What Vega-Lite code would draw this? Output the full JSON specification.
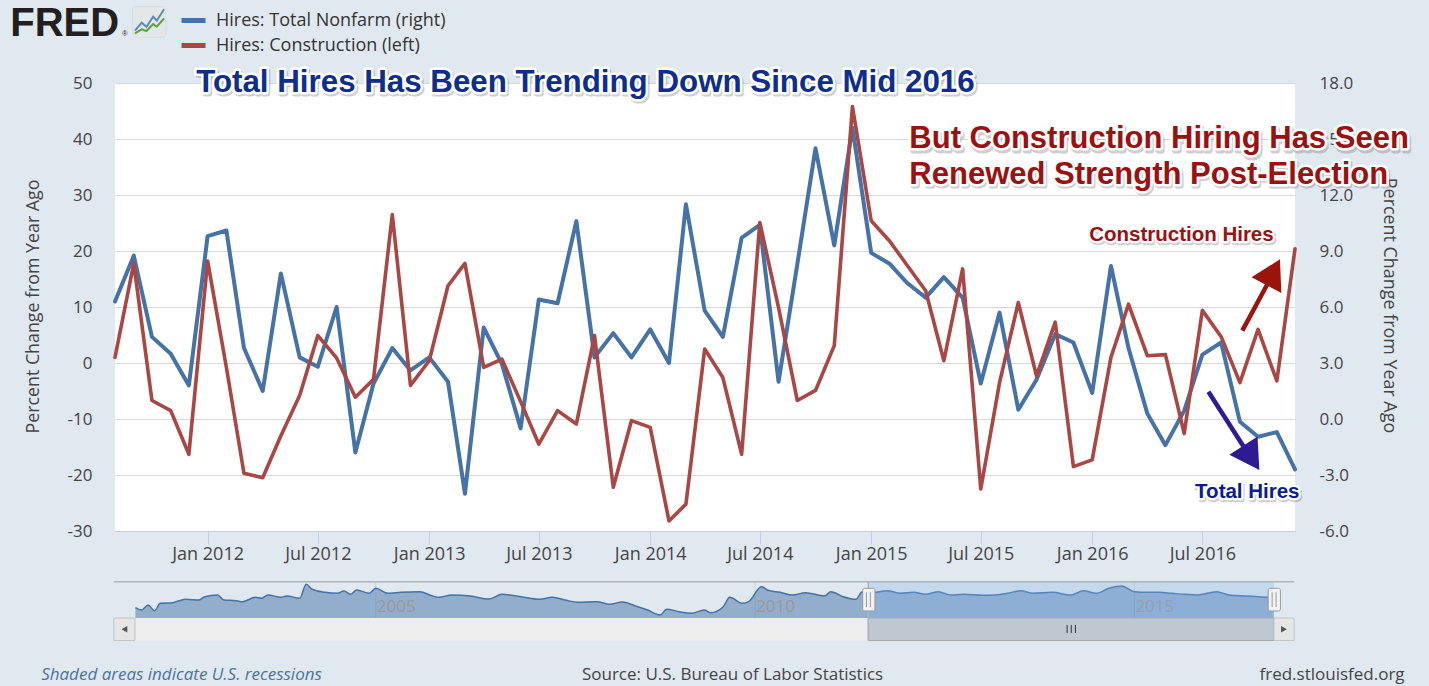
{
"$schema": "https://vega.github.io/schema/vega-lite/v6.json",
"width": 1180,
"height": 448,
"autosize": {"type": "none"},
"padding": {"left": 115, "top": 83, "right": 134, "bottom": 155},
"background": "#e1e9f0",
"config": {
  "view": {"fill": "#ffffff", "stroke": null},
  "font": "Open Sans",
  "axis": {"labelFont": "Open Sans", "titleFont": "Open Sans"},
  "legend": {"labelFont": "Open Sans"}
},
"datasets": {
  "hires": [
    {"date":"2011-08-01","total":6.3,"construction":1.0},
    {"date":"2011-09-01","total":8.75,"construction":17.8},
    {"date":"2011-10-01","total":4.4,"construction":-6.7},
    {"date":"2011-11-01","total":3.5,"construction":-8.5},
    {"date":"2011-12-01","total":1.8,"construction":-16.3},
    {"date":"2012-01-01","total":9.8,"construction":18.2},
    {"date":"2012-02-01","total":10.1,"construction":-0.8},
    {"date":"2012-03-01","total":3.8,"construction":-19.7},
    {"date":"2012-04-01","total":1.5,"construction":-20.5},
    {"date":"2012-05-01","total":7.8,"construction":-13.0},
    {"date":"2012-06-01","total":3.3,"construction":-5.8},
    {"date":"2012-07-01","total":2.8,"construction":4.9},
    {"date":"2012-08-01","total":6.0,"construction":0.9},
    {"date":"2012-09-01","total":-1.8,"construction":-6.1},
    {"date":"2012-10-01","total":1.9,"construction":-2.9},
    {"date":"2012-11-01","total":3.8,"construction":26.5},
    {"date":"2012-12-01","total":2.6,"construction":-4.0},
    {"date":"2013-01-01","total":3.3,"construction":0.4},
    {"date":"2013-02-01","total":2.0,"construction":13.8},
    {"date":"2013-03-01","total":-4.0,"construction":17.8},
    {"date":"2013-04-01","total":4.9,"construction":-0.8},
    {"date":"2013-05-01","total":2.95,"construction":0.7},
    {"date":"2013-06-01","total":-0.5,"construction":-6.9},
    {"date":"2013-07-01","total":6.4,"construction":-14.5},
    {"date":"2013-08-01","total":6.2,"construction":-8.5},
    {"date":"2013-09-01","total":10.6,"construction":-10.9},
    {"date":"2013-10-01","total":3.3,"construction":4.9},
    {"date":"2013-11-01","total":4.6,"construction":-22.2},
    {"date":"2013-12-01","total":3.3,"construction":-10.3},
    {"date":"2014-01-01","total":4.8,"construction":-11.5},
    {"date":"2014-02-01","total":3.0,"construction":-28.2},
    {"date":"2014-03-01","total":11.5,"construction":-25.2},
    {"date":"2014-04-01","total":5.8,"construction":2.5},
    {"date":"2014-05-01","total":4.4,"construction":-2.6},
    {"date":"2014-06-01","total":9.7,"construction":-16.3},
    {"date":"2014-07-01","total":10.4,"construction":25.1},
    {"date":"2014-08-01","total":2.0,"construction":9.9},
    {"date":"2014-09-01","total":8.3,"construction":-6.7},
    {"date":"2014-10-01","total":14.5,"construction":-4.9},
    {"date":"2014-11-01","total":9.3,"construction":3.1},
    {"date":"2014-12-01","total":15.6,"construction":45.8},
    {"date":"2015-01-01","total":8.9,"construction":25.4},
    {"date":"2015-02-01","total":8.3,"construction":21.7},
    {"date":"2015-03-01","total":7.3,"construction":17.5},
    {"date":"2015-04-01","total":6.5,"construction":12.9},
    {"date":"2015-05-01","total":7.6,"construction":0.4},
    {"date":"2015-06-01","total":6.5,"construction":16.8},
    {"date":"2015-07-01","total":1.9,"construction":-22.5},
    {"date":"2015-08-01","total":5.7,"construction":-3.5},
    {"date":"2015-09-01","total":0.5,"construction":10.8},
    {"date":"2015-10-01","total":2.1,"construction":-2.3},
    {"date":"2015-11-01","total":4.55,"construction":7.3},
    {"date":"2015-12-01","total":4.1,"construction":-18.5},
    {"date":"2016-01-01","total":1.4,"construction":-17.3},
    {"date":"2016-02-01","total":8.2,"construction":1.0},
    {"date":"2016-03-01","total":3.8,"construction":10.5},
    {"date":"2016-04-01","total":0.3,"construction":1.3},
    {"date":"2016-05-01","total":-1.4,"construction":1.5},
    {"date":"2016-06-01","total":0.45,"construction":-12.6},
    {"date":"2016-07-01","total":3.45,"construction":9.4},
    {"date":"2016-08-01","total":4.1,"construction":4.7},
    {"date":"2016-09-01","total":-0.15,"construction":-3.5},
    {"date":"2016-10-01","total":-0.95,"construction":6.0},
    {"date":"2016-11-01","total":-0.7,"construction":-3.2},
    {"date":"2016-12-01","total":-2.7,"construction":20.4}
  ],
  "notes": [
    {"s":"title","t":"Total Hires Has Been Trending Down Since Mid 2016","d":"2011-12-13","v":48.45},
    {"s":"head","t":"But Construction Hiring Has Seen","d":"2015-03-05","v":38.39},
    {"s":"head","t":"Renewed Strength Post-Election","d":"2015-03-05","v":32.05},
    {"s":"cons","t":"Construction Hires","d":"2015-12-27","v":21.84},
    {"s":"tot","t":"Total Hires","d":"2016-06-19","v":-24.16},
    {"s":"logo","t":"FRED","d":"2011-02-09","v":58.39},
    {"s":"reg","t":"®","d":"2011-08-13","v":58.39},
    {"s":"foot1","t":"Shaded areas indicate U.S. recessions","d":"2011-04-01","v":-55.71},
    {"s":"foot2","t":"Source: U.S. Bureau of Labor Statistics","d":"2014-05-17","v":-55.71},
    {"s":"foot3","t":"fred.stlouisfed.org","d":"2017-05-31","v":-55.71}
  ],
  "navs": [
    {"d":"2001-11-01","h":10.3},{"d":"2001-12-01","h":8.0},{"d":"2002-01-01","h":13.0},{"d":"2002-02-01","h":7.3},
    {"d":"2002-03-01","h":14.7},{"d":"2002-05-01","h":15.3},{"d":"2002-06-01","h":17.3},{"d":"2002-07-01","h":18.7},
    {"d":"2002-09-01","h":18.0},{"d":"2002-10-01","h":21.3},{"d":"2002-12-01","h":23.0},{"d":"2003-01-01","h":18.0},
    {"d":"2003-03-01","h":17.3},{"d":"2003-04-01","h":16.3},{"d":"2003-06-01","h":20.7},{"d":"2003-07-01","h":19.7},
    {"d":"2003-08-01","h":23.0},{"d":"2003-10-01","h":20.7},{"d":"2003-11-01","h":22.0},{"d":"2004-01-01","h":19.7},
    {"d":"2004-02-01","h":33.7},{"d":"2004-03-01","h":28.7},{"d":"2004-05-01","h":25.7},{"d":"2004-07-01","h":24.7},
    {"d":"2004-08-01","h":27.0},{"d":"2004-09-01","h":23.7},{"d":"2004-10-01","h":28.0},{"d":"2004-12-01","h":24.7},
    {"d":"2005-01-01","h":29.7},{"d":"2005-03-01","h":24.7},{"d":"2005-05-01","h":25.7},{"d":"2005-08-01","h":26.3},
    {"d":"2005-10-01","h":22.0},{"d":"2005-11-01","h":20.7},{"d":"2006-01-01","h":23.0},{"d":"2006-04-01","h":22.0},
    {"d":"2006-07-01","h":19.0},{"d":"2006-09-01","h":23.7},{"d":"2006-12-01","h":21.3},{"d":"2007-03-01","h":18.7},
    {"d":"2007-05-01","h":20.7},{"d":"2007-07-01","h":18.0},{"d":"2007-09-01","h":15.7},{"d":"2007-12-01","h":16.3},
    {"d":"2008-02-01","h":13.7},{"d":"2008-04-01","h":16.0},{"d":"2008-06-01","h":12.3},{"d":"2008-08-01","h":8.0},
    {"d":"2008-10-01","h":3.0},{"d":"2008-11-01","h":8.7},{"d":"2009-01-01","h":6.3},{"d":"2009-03-01","h":4.7},
    {"d":"2009-05-01","h":8.0},{"d":"2009-06-01","h":5.3},{"d":"2009-08-01","h":11.3},{"d":"2009-09-01","h":20.7},
    {"d":"2009-11-01","h":14.7},{"d":"2009-12-01","h":16.3},{"d":"2010-02-01","h":31.3},{"d":"2010-03-01","h":28.0},
    {"d":"2010-05-01","h":25.7},{"d":"2010-07-01","h":23.0},{"d":"2010-09-01","h":25.3},{"d":"2010-12-01","h":22.0},
    {"d":"2011-01-01","h":26.3},{"d":"2011-03-01","h":21.3},{"d":"2011-05-01","h":18.7},{"d":"2011-06-01","h":26.3},
    {"d":"2011-07-01","h":24.7},{"d":"2011-10-01","h":27.3},{"d":"2011-12-01","h":24.7},{"d":"2012-02-01","h":25.7},
    {"d":"2012-04-01","h":23.7},{"d":"2012-06-01","h":26.3},{"d":"2012-08-01","h":23.0},{"d":"2012-10-01","h":23.7},
    {"d":"2013-01-01","h":22.7},{"d":"2013-03-01","h":23.0},{"d":"2013-05-01","h":24.7},{"d":"2013-07-01","h":27.3},
    {"d":"2013-09-01","h":24.7},{"d":"2013-12-01","h":25.7},{"d":"2014-03-01","h":23.0},{"d":"2014-05-01","h":27.3},
    {"d":"2014-07-01","h":24.7},{"d":"2014-09-01","h":29.7},{"d":"2014-11-01","h":32.0},{"d":"2015-01-01","h":26.3},
    {"d":"2015-03-01","h":25.7},{"d":"2015-05-01","h":25.7},{"d":"2015-07-01","h":24.7},{"d":"2015-09-01","h":23.7},
    {"d":"2015-11-01","h":23.0},{"d":"2016-02-01","h":26.3},{"d":"2016-04-01","h":23.0},{"d":"2016-07-01","h":22.0},
    {"d":"2016-10-01","h":20.7},{"d":"2016-11-01","h":20.7}
  ]
},
"resolve": {"scale": {"x": "independent", "y": "independent"}},
"layer": [
  {
    "resolve": {"scale": {"y": "independent"}},
    "layer": [
      {
        "data": {"name": "hires"},
        "mark": {"type": "line", "strokeWidth": 4, "strokeJoin": "round", "strokeCap": "round"},
        "encoding": {
          "x": {"field": "date", "type": "temporal",
            "scale": {"type": "utc", "domain": [{"year":2011,"month":8,"date":1,"utc":true},{"year":2016,"month":12,"date":1,"utc":true}], "nice": false},
            "axis": {"title": null, "format": "%b %Y", "grid": false,
              "values": [{"year":2012,"month":1,"date":1,"utc":true},{"year":2012,"month":7,"date":1,"utc":true},{"year":2013,"month":1,"date":1,"utc":true},{"year":2013,"month":7,"date":1,"utc":true},{"year":2014,"month":1,"date":1,"utc":true},{"year":2014,"month":7,"date":1,"utc":true},{"year":2015,"month":1,"date":1,"utc":true},{"year":2015,"month":7,"date":1,"utc":true},{"year":2016,"month":1,"date":1,"utc":true},{"year":2016,"month":7,"date":1,"utc":true}],
              "labelFontSize": 18, "labelColor": "#444444", "tickColor": "#c0d0e0", "tickSize": 13, "tickWidth": 1,
              "domainColor": "#c0d0e0", "domainWidth": 1, "labelPadding": 1, "labelFlush": false, "labelOverlap": false}},
          "y": {"field": "total", "type": "quantitative",
            "scale": {"domain": [-6, 18], "nice": false, "zero": false},
            "axis": {"orient": "right", "values": [-6,-3,0,3,6,9,12,15,18], "format": ".1f", "labelExpr": "replace(datum.label, '\u2212', '-')",
              "grid": false, "domain": false, "ticks": false, "tickSize": 0,
              "labelPadding": 24, "labelFontSize": 17, "labelColor": "#444444",
              "title": "Percent Change from Year Ago", "titleFontSize": 17.9, "titleFontWeight": "normal", "titleColor": "#444444",
              "titleAngle": 90, "titleX": 93, "titleY": 222, "titleBaseline": "middle", "titleAlign": "center"}},
          "color": {"datum": "Hires: Total Nonfarm (right)", "type": "nominal",
            "scale": {"domain": ["Hires: Total Nonfarm (right)", "Hires: Construction (left)"], "range": ["#4572a7", "#aa4643"]},
            "legend": {"orient": "none", "legendX": 64, "legendY": -77, "direction": "vertical", "title": null,
              "symbolType": "stroke", "symbolStrokeWidth": 5, "symbolSize": 576, "labelFontSize": 18, "labelColor": "#333333",
              "labelLimit": 600, "rowPadding": -2, "labelOffset": 8, "padding": 0}}
        }
      },
      {
        "layer": [
          {
            "data": {"name": "hires"},
            "mark": {"type": "line", "strokeWidth": 3.6, "strokeJoin": "round", "strokeCap": "round"},
            "encoding": {
              "x": {"field": "date", "type": "temporal"},
              "y": {"field": "construction", "type": "quantitative",
                "scale": {"domain": [-30, 50], "nice": false, "zero": false},
                "axis": {"orient": "left", "values": [-30,-20,-10,0,10,20,30,40,50], "labelExpr": "replace(datum.label, '\u2212', '-')",
                  "grid": true, "gridColor": "#d8d8d8", "gridWidth": 1,
                  "domain": false, "ticks": false, "tickSize": 0, "labelPadding": 23, "labelFontSize": 17, "labelColor": "#444444",
                  "title": "Percent Change from Year Ago", "titleFontSize": 17.8, "titleFontWeight": "normal", "titleColor": "#444444",
                  "titleAngle": -90, "titleX": -82, "titleY": 223, "titleBaseline": "middle", "titleAlign": "center"}},
              "color": {"datum": "Hires: Construction (left)", "type": "nominal"}
            }
          },
          {
            "mark": {"type": "rule", "color": "#000000", "strokeWidth": 2.5},
            "encoding": {"y": {"datum": 0, "type": "quantitative"}}
          },
          {
            "data": {"name": "notes"},
            "transform": [{"filter": "datum.s == 'title'"}],
            "mark": {"type": "text", "font": "Liberation Sans", "fontWeight": "bold", "fontSize": 31.3, "align": "left", "baseline": "alphabetic", "fill": "#777777", "stroke": "#777777", "strokeWidth": 5, "strokeJoin": "round", "opacity": 0.35, "dx": 1.5, "dy": 2.5},
            "encoding": {"x": {"field": "d", "type": "temporal"}, "y": {"field": "v", "type": "quantitative"}, "text": {"field": "t"}}
          },
          {
            "data": {"name": "notes"},
            "transform": [{"filter": "datum.s == 'title'"}],
            "mark": {"type": "text", "font": "Liberation Sans", "fontWeight": "bold", "fontSize": 31.3, "align": "left", "baseline": "alphabetic", "fill": "#ffffff", "stroke": "#ffffff", "strokeWidth": 5, "strokeJoin": "round"},
            "encoding": {"x": {"field": "d", "type": "temporal"}, "y": {"field": "v", "type": "quantitative"}, "text": {"field": "t"}}
          },
          {
            "data": {"name": "notes"},
            "transform": [{"filter": "datum.s == 'title'"}],
            "mark": {"type": "text", "font": "Liberation Sans", "fontWeight": "bold", "fontSize": 31.3, "align": "left", "baseline": "alphabetic", "fill": "#0d2d8f"},
            "encoding": {"x": {"field": "d", "type": "temporal"}, "y": {"field": "v", "type": "quantitative"}, "text": {"field": "t"}}
          },
          {
            "data": {"name": "notes"},
            "transform": [{"filter": "datum.s == 'head'"}],
            "mark": {"type": "text", "font": "Liberation Sans", "fontWeight": "bold", "fontSize": 31, "align": "left", "baseline": "alphabetic", "fill": "#777777", "stroke": "#777777", "strokeWidth": 5, "strokeJoin": "round", "opacity": 0.35, "dx": 1.5, "dy": 2.5},
            "encoding": {"x": {"field": "d", "type": "temporal"}, "y": {"field": "v", "type": "quantitative"}, "text": {"field": "t"}}
          },
          {
            "data": {"name": "notes"},
            "transform": [{"filter": "datum.s == 'head'"}],
            "mark": {"type": "text", "font": "Liberation Sans", "fontWeight": "bold", "fontSize": 31, "align": "left", "baseline": "alphabetic", "fill": "#ffffff", "stroke": "#ffffff", "strokeWidth": 5, "strokeJoin": "round"},
            "encoding": {"x": {"field": "d", "type": "temporal"}, "y": {"field": "v", "type": "quantitative"}, "text": {"field": "t"}}
          },
          {
            "data": {"name": "notes"},
            "transform": [{"filter": "datum.s == 'head'"}],
            "mark": {"type": "text", "font": "Liberation Sans", "fontWeight": "bold", "fontSize": 31, "align": "left", "baseline": "alphabetic", "fill": "#9b1111"},
            "encoding": {"x": {"field": "d", "type": "temporal"}, "y": {"field": "v", "type": "quantitative"}, "text": {"field": "t"}}
          },
          {
            "data": {"name": "notes"},
            "transform": [{"filter": "datum.s == 'cons' || datum.s == 'tot'"}],
            "mark": {"type": "text", "font": "Liberation Sans", "fontWeight": "bold", "fontSize": 20.5, "align": "left", "baseline": "alphabetic", "fill": "#777777", "stroke": "#777777", "strokeWidth": 4.5, "strokeJoin": "round", "opacity": 0.35, "dx": 1.2, "dy": 2},
            "encoding": {"x": {"field": "d", "type": "temporal"}, "y": {"field": "v", "type": "quantitative"}, "text": {"field": "t"}}
          },
          {
            "data": {"name": "notes"},
            "transform": [{"filter": "datum.s == 'cons' || datum.s == 'tot'"}],
            "mark": {"type": "text", "font": "Liberation Sans", "fontWeight": "bold", "fontSize": 20.5, "align": "left", "baseline": "alphabetic", "fill": "#ffffff", "stroke": "#ffffff", "strokeWidth": 4.5, "strokeJoin": "round"},
            "encoding": {"x": {"field": "d", "type": "temporal"}, "y": {"field": "v", "type": "quantitative"}, "text": {"field": "t"}}
          },
          {
            "data": {"name": "notes"},
            "transform": [{"filter": "datum.s == 'cons'"}],
            "mark": {"type": "text", "font": "Liberation Sans", "fontWeight": "bold", "fontSize": 20.5, "align": "left", "baseline": "alphabetic", "fill": "#9b1111"},
            "encoding": {"x": {"field": "d", "type": "temporal"}, "y": {"field": "v", "type": "quantitative"}, "text": {"field": "t"}}
          },
          {
            "data": {"name": "notes"},
            "transform": [{"filter": "datum.s == 'tot'"}],
            "mark": {"type": "text", "font": "Liberation Sans", "fontWeight": "bold", "fontSize": 20.5, "align": "left", "baseline": "alphabetic", "fill": "#0b1d91"},
            "encoding": {"x": {"field": "d", "type": "temporal"}, "y": {"field": "v", "type": "quantitative"}, "text": {"field": "t"}}
          },
          {
            "data": {"values": [{"a":"r","d":"2016-09-05","v":5.77,"d2":"2016-10-21","v2":15.0}]},
            "mark": {"type": "rule", "color": "#9b140c", "strokeWidth": 4.5},
            "encoding": {"x": {"field": "d", "type": "temporal"}, "y": {"field": "v", "type": "quantitative"}, "x2": {"field": "d2"}, "y2": {"field": "v2"}}
          },
          {
            "data": {"values": [{"a":"r","d":"2016-10-26","v":16.21}]},
            "mark": {"type": "point", "shape": "triangle-up", "size": 1130, "filled": true, "opacity": 1, "color": "#9b140c", "angle": 27.6},
            "encoding": {"x": {"field": "d", "type": "temporal"}, "y": {"field": "v", "type": "quantitative"}}
          },
          {
            "data": {"values": [{"a":"b","d":"2016-07-11","v":-5.13,"d2":"2016-09-16","v2":-16.43}]},
            "mark": {"type": "rule", "color": "#2e1b94", "strokeWidth": 4.5},
            "encoding": {"x": {"field": "d", "type": "temporal"}, "y": {"field": "v", "type": "quantitative"}, "x2": {"field": "d2"}, "y2": {"field": "v2"}}
          },
          {
            "data": {"values": [{"a":"b","d":"2016-09-20","v":-16.93}]},
            "mark": {"type": "point", "shape": "triangle-up", "size": 1130, "filled": true, "opacity": 1, "color": "#2e1b94", "angle": 146.9},
            "encoding": {"x": {"field": "d", "type": "temporal"}, "y": {"field": "v", "type": "quantitative"}}
          },
          {
            "data": {"name": "notes"},
            "transform": [{"filter": "datum.s == 'logo'"}],
            "mark": {"type": "text", "font": "Liberation Sans", "fontWeight": "bold", "fontSize": 40, "align": "left", "baseline": "alphabetic", "fill": "#231f20"},
            "encoding": {"x": {"field": "d", "type": "temporal"}, "y": {"field": "v", "type": "quantitative"}, "text": {"field": "t"}}
          },
          {
            "data": {"name": "notes"},
            "transform": [{"filter": "datum.s == 'reg'"}],
            "mark": {"type": "text", "font": "Liberation Sans", "fontSize": 7, "align": "left", "baseline": "alphabetic", "fill": "#231f20"},
            "encoding": {"x": {"field": "d", "type": "temporal"}, "y": {"field": "v", "type": "quantitative"}, "text": {"field": "t"}}
          },
          {
            "data": {"values": [{"d":"2011-08-30","d2":"2011-10-24","v":58.16,"v2":63.63}]},
            "mark": {"type": "rect", "fill": "#e4e7ea", "stroke": "#d0d4d8", "strokeWidth": 0.5, "cornerRadius": 3},
            "encoding": {"x": {"field": "d", "type": "temporal"}, "x2": {"field": "d2"}, "y": {"field": "v", "type": "quantitative"}, "y2": {"field": "v2"}}
          },
          {
            "data": {"values": [{"d":"2011-09-03","v":59.34},{"d":"2011-09-14","v":60.77},{"d":"2011-09-22","v":60.05},{"d":"2011-10-03","v":61.84},{"d":"2011-10-09","v":61.13},{"d":"2011-10-21","v":63.16}]},
            "mark": {"type": "line", "color": "#5b8cb8", "strokeWidth": 2},
            "encoding": {"x": {"field": "d", "type": "temporal"}, "y": {"field": "v", "type": "quantitative"}}
          },
          {
            "data": {"values": [{"d":"2011-09-03","v":58.88},{"d":"2011-09-14","v":59.59},{"d":"2011-09-22","v":59.29},{"d":"2011-10-03","v":60.54},{"d":"2011-10-09","v":60.05},{"d":"2011-10-21","v":61.55}]},
            "mark": {"type": "line", "color": "#5aa33a", "strokeWidth": 2},
            "encoding": {"x": {"field": "d", "type": "temporal"}, "y": {"field": "v", "type": "quantitative"}}
          },
          {
            "data": {"name": "notes"},
            "transform": [{"filter": "datum.s == 'foot1'"}],
            "mark": {"type": "text", "fontSize": 17, "fontStyle": "italic", "align": "left", "baseline": "middle", "fill": "#4a72a8"},
            "encoding": {"x": {"field": "d", "type": "temporal"}, "y": {"field": "v", "type": "quantitative"}, "text": {"field": "t"}}
          },
          {
            "data": {"name": "notes"},
            "transform": [{"filter": "datum.s == 'foot2'"}],
            "mark": {"type": "text", "fontSize": 17, "align": "center", "baseline": "middle", "fill": "#444444"},
            "encoding": {"x": {"field": "d", "type": "temporal"}, "y": {"field": "v", "type": "quantitative"}, "text": {"field": "t"}}
          },
          {
            "data": {"name": "notes"},
            "transform": [{"filter": "datum.s == 'foot3'"}],
            "mark": {"type": "text", "fontSize": 17, "align": "right", "baseline": "middle", "fill": "#444444"},
            "encoding": {"x": {"field": "d", "type": "temporal"}, "y": {"field": "v", "type": "quantitative"}, "text": {"field": "t"}}
          }
        ]
      }
    ]
  },
  {
    "layer": [
      {
        "data": {"values": [{"d":"2005-01-01","t":"2005"},{"d":"2010-01-01","t":"2010"},{"d":"2015-01-01","t":"2015"}]},
        "mark": {"type": "rule", "color": "#cbd5df", "strokeWidth": 1},
        "encoding": {
          "x": {"field": "d", "type": "temporal", "axis": null,
            "scale": {"type": "utc", "domain": [{"year":2001,"month":10,"date":30,"utc":true},{"year":2016,"month":11,"date":3,"utc":true}], "range": [20, 1159], "nice": false}},
          "y": {"datum": 0, "type": "quantitative", "axis": null, "scale": {"domain": [-23, 37], "range": [558, 498], "nice": false, "zero": false}},
          "y2": {"datum": 36.3}
        }
      },
      {
        "data": {"name": "navs"},
        "mark": {"type": "area", "interpolate": "monotone", "color": "#4572a7", "fillOpacity": 0.5, "opacity": 1, "line": {"color": "#4572a7", "strokeWidth": 1.5}},
        "encoding": {
          "x": {"field": "d", "type": "temporal", "axis": null},
          "y": {"field": "h", "type": "quantitative", "axis": null},
          "y2": {"datum": 0}
        }
      },
      {
        "data": {"values": [{"d":"2005-01-01","t":"2005"},{"d":"2010-01-01","t":"2010"},{"d":"2015-01-01","t":"2015"}]},
        "mark": {"type": "text", "fontSize": 17, "align": "left", "baseline": "middle", "dx": 1, "fill": "#999999"},
        "encoding": {
          "x": {"field": "d", "type": "temporal", "axis": null},
          "y": {"datum": 11.3, "type": "quantitative", "axis": null},
          "text": {"field": "t"}
        }
      },
      {
        "data": {"values": [{"d":"2011-06-30","d2":"2016-11-03"}]},
        "mark": {"type": "rect", "fill": "#80b3ec", "fillOpacity": 0.3},
        "encoding": {
          "x": {"field": "d", "type": "temporal", "axis": null}, "x2": {"field": "d2"},
          "y": {"datum": 0, "type": "quantitative", "axis": null}, "y2": {"datum": 36.3}
        }
      },
      {
        "data": {"values": [{"d":"2001-07-20","d2":"2017-02-08"}]},
        "mark": {"type": "rule", "color": "#b0b3ba", "strokeWidth": 1.5},
        "encoding": {
          "x": {"field": "d", "type": "temporal", "axis": null}, "x2": {"field": "d2"},
          "y": {"datum": 36.3, "type": "quantitative", "axis": null}
        }
      },
      {
        "data": {"values": [{"d":"2001-10-30","d2":"2016-11-03"}]},
        "mark": {"type": "rect", "fill": "#eeeeee"},
        "encoding": {
          "x": {"field": "d", "type": "temporal", "axis": null}, "x2": {"field": "d2"},
          "y": {"datum": -22.5, "type": "quantitative", "axis": null}, "y2": {"datum": 0}
        }
      },
      {
        "data": {"values": [{"d":"2011-06-30","d2":"2016-11-03"}]},
        "mark": {"type": "rect", "fill": "#bfc8d1", "stroke": "#a9a9a9", "strokeWidth": 1},
        "encoding": {
          "x": {"field": "d", "type": "temporal", "axis": null}, "x2": {"field": "d2"},
          "y": {"datum": -22.5, "type": "quantitative", "axis": null}, "y2": {"datum": 0}
        }
      },
      {
        "data": {"values": [{"d":"2011-06-30"}]},
        "mark": {"type": "rule", "color": "#b0b3ba", "strokeWidth": 1.5},
        "encoding": {
          "x": {"field": "d", "type": "temporal", "axis": null},
          "y": {"datum": -22.5, "type": "quantitative", "axis": null}, "y2": {"datum": 36.3}
        }
      },
      {
        "data": {"values": [{"d":"2001-07-20","d2":"2001-10-30"},{"d":"2016-11-03","d2":"2017-02-08"}]},
        "mark": {"type": "rect", "fill": "#e6e6e6", "stroke": "#c4c4c4", "strokeWidth": 1},
        "encoding": {
          "x": {"field": "d", "type": "temporal", "axis": null}, "x2": {"field": "d2"},
          "y": {"datum": -22.5, "type": "quantitative", "axis": null}, "y2": {"datum": 0}
        }
      },
      {
        "data": {"values": [{"d":"2001-09-09"}]},
        "mark": {"type": "point", "shape": "triangle-left", "size": 45, "filled": true, "opacity": 1, "color": "#555555"},
        "encoding": {
          "x": {"field": "d", "type": "temporal", "axis": null},
          "y": {"datum": -11.25, "type": "quantitative", "axis": null}
        }
      },
      {
        "data": {"values": [{"d":"2016-12-21"}]},
        "mark": {"type": "point", "shape": "triangle-right", "size": 45, "filled": true, "opacity": 1, "color": "#555555"},
        "encoding": {
          "x": {"field": "d", "type": "temporal", "axis": null},
          "y": {"datum": -11.25, "type": "quantitative", "axis": null}
        }
      },
      {
        "data": {"values": [{"d":"2014-02-11"},{"d":"2014-03-03"},{"d":"2014-03-23"}]},
        "mark": {"type": "rule", "color": "#333333", "strokeWidth": 1},
        "encoding": {
          "x": {"field": "d", "type": "temporal", "axis": null},
          "y": {"datum": -15, "type": "quantitative", "axis": null}, "y2": {"datum": -7}
        }
      },
      {
        "data": {"values": [{"d":"2011-06-03","d2":"2011-08-01"},{"d":"2016-10-06","d2":"2016-12-04"}]},
        "mark": {"type": "rect", "fill": "#f2f2f2", "stroke": "#999999", "strokeWidth": 1, "cornerRadius": 2},
        "encoding": {
          "x": {"field": "d", "type": "temporal", "axis": null}, "x2": {"field": "d2"},
          "y": {"datum": 7, "type": "quantitative", "axis": null}, "y2": {"datum": 29.7}
        }
      },
      {
        "data": {"values": [{"d":"2011-06-21"},{"d":"2011-07-10"},{"d":"2016-10-25"},{"d":"2016-11-13"}]},
        "mark": {"type": "rule", "color": "#999999", "strokeWidth": 1},
        "encoding": {
          "x": {"field": "d", "type": "temporal", "axis": null},
          "y": {"datum": 11, "type": "quantitative", "axis": null}, "y2": {"datum": 25.7}
        }
      }
    ]
  }
]
}
